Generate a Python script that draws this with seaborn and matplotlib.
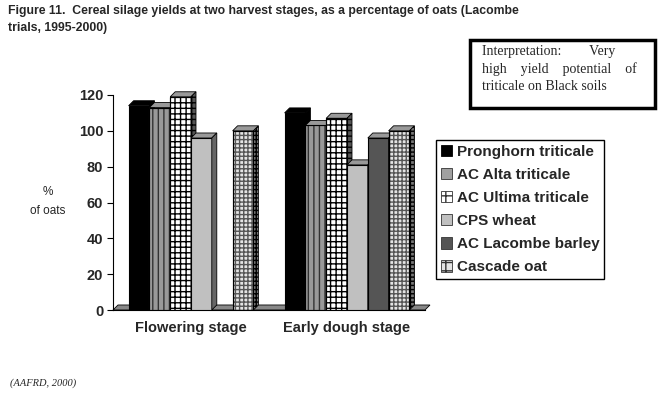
import numpy as np
import pandas as pd
import seaborn as sns
import matplotlib.pyplot as plt
from matplotlib.patches import Polygon, Rectangle

sns.set_style("white")
plt.rcParams['font.family'] = ['Liberation Sans', 'DejaVu Sans']

stages = ["Flowering stage", "Early dough stage"]
varieties = ["Pronghorn triticale", "AC Alta triticale", "AC Ultima triticale",
             "CPS wheat", "AC Lacombe barley", "Cascade oat"]
flowering = [114, 113, 119, 96, np.nan, 100]
early_dough = [110, 103, 107, 81, 96, 100]

face = ["#000000", "#999999", "#ffffff", "#c0c0c0", "#555555", "#e4e4e4"]
hatch = [None, "|||", "+++", None, None, "++++"]
hatch_col = ["#000000", "#333333", "#000000", "#000000", "#000000", "#555555"]
side_col = ["#000000", "#666666", "#555555", "#666666", "#333333", "#777777"]

rows = []
for v, a, b in zip(varieties, flowering, early_dough):
    rows.append({"Stage": stages[0], "Variety": v, "Pct": a})
    rows.append({"Stage": stages[1], "Variety": v, "Pct": b})
df = pd.DataFrame(rows)

fig = plt.figure(figsize=(6.63, 3.95), dpi=100)
ax = fig.add_axes([113 / 663, 1 - 310 / 395, 312 / 663, 215 / 395])

sns.barplot(data=df, x="Stage", y="Pct", hue="Variety", order=stages,
            hue_order=varieties, width=0.8, gap=0, ax=ax, legend=False,
            errorbar=None, saturation=1)

dx, dy = 0.032, 2.8
for i, cont in enumerate(ax.containers):
    for p in cont:
        h = p.get_height()
        if not np.isfinite(h) or h == 0:
            p.set_visible(False)
            continue
        x0, w = p.get_x(), p.get_width()
        z = 3 + x0
        p.set_facecolor(face[i])
        p.set_edgecolor(hatch_col[i])
        p.set_linewidth(0.8)
        p.set_zorder(z)
        if hatch[i]:
            p.set_hatch(hatch[i])
            ax.add_patch(Rectangle((x0, 0), w, h, fill=False, ec="black",
                                   lw=0.8, zorder=z + 0.001))
        top = Polygon([(x0, h), (x0 + dx, h + dy), (x0 + w + dx, h + dy), (x0 + w, h)],
                      closed=True, fc=side_col[i] if i == 0 else "#999999",
                      ec="black", lw=0.6, zorder=z, clip_on=False)
        side = Polygon([(x0 + w, 0), (x0 + w, h), (x0 + w + dx, h + dy), (x0 + w + dx, dy)],
                       closed=True, fc=side_col[i], ec="black", lw=0.6, zorder=z,
                       clip_on=False)
        if hatch[i]:
            side.set_hatch(hatch[i])
        ax.add_patch(top)
        ax.add_patch(side)

# floor strip
ax.add_patch(Polygon([(-0.5, 0), (1.5, 0), (1.5 + dx, dy), (-0.5 + dx, dy)],
                     closed=True, fc="#888888", ec="black", lw=0.6, zorder=1,
                     clip_on=False))

ax.set_xlim(-0.5, 1.5)
ax.set_ylim(0, 120)
ax.set_yticks(range(0, 121, 20))
ax.set_yticklabels([str(t) for t in range(0, 121, 20)], fontsize=10.5,
                   fontweight="bold")
ax.set_xticks([0, 1])
ax.set_xticklabels(stages, fontsize=10.5, fontweight="bold")
ax.set_xticks([-0.5, 0.5, 1.5], minor=True)
ax.tick_params(axis="x", which="major", length=0, pad=8)
ax.tick_params(axis="x", which="minor", length=4, direction="out", color="black")
ax.tick_params(axis="y", length=4, direction="out", color="black", pad=3, left=True)
ax.set_xlabel("")
ax.set_ylabel("")
for s in ["top", "right"]:
    ax.spines[s].set_visible(False)
for s in ["left", "bottom"]:
    ax.spines[s].set_color("black")
    ax.spines[s].set_linewidth(0.8)

# legend
handles = []
for i, v in enumerate(varieties):
    handles.append(Rectangle((0, 0), 1, 1, fc=face[i], ec="#333333" if i else "black",
                             lw=0.6, hatch="++" if hatch[i] and i != 1 else None,
                             label=v))
handles[1].set_facecolor("#a0a0a0")
leg = fig.legend(handles=handles, loc="upper left",
                 bbox_to_anchor=(436 / 663, 1 - 140 / 395), frameon=True,
                 fancybox=False, edgecolor="black", framealpha=1,
                 prop={"size": 11, "weight": "bold"}, handlelength=0.75,
                 handleheight=0.75, handletextpad=0.3, labelspacing=0.6,
                 borderpad=0.3, borderaxespad=0)
leg.get_frame().set_linewidth(1)

# titles and notes
fig.text(8 / 663, 1 - 5 / 395,
         "Figure 11.  Cereal silage yields at two harvest stages, as a percentage of oats (Lacombe\ntrials, 1995-2000)",
         ha="left", va="top", fontsize=8.8, fontweight="bold", linespacing=1.5)
fig.text(48 / 663, 1 - 192 / 395, "%", ha="center", va="center", fontsize=8.5)
fig.text(48 / 663, 1 - 211 / 395, "of oats", ha="center", va="center", fontsize=8.5)
fig.add_artist(Rectangle((470 / 663, 1 - 108 / 395), 185 / 663, 68 / 395,
                         transform=fig.transFigure, fill=False, ec="black", lw=2.5))
fig.text(482 / 663, 1 - 45 / 395,
         "Interpretation:        Very\nhigh    yield    potential    of\ntriticale on Black soils",
         ha="left", va="top", fontsize=10, family=["Liberation Serif", "DejaVu Serif"],
         linespacing=1.4)
fig.text(10 / 663, 1 - 383 / 395, "(AAFRD, 2000)", ha="left", va="center",
         fontsize=7.5, style="italic", family=["Liberation Serif", "DejaVu Serif"])

fig.savefig("out.png", dpi=100)
